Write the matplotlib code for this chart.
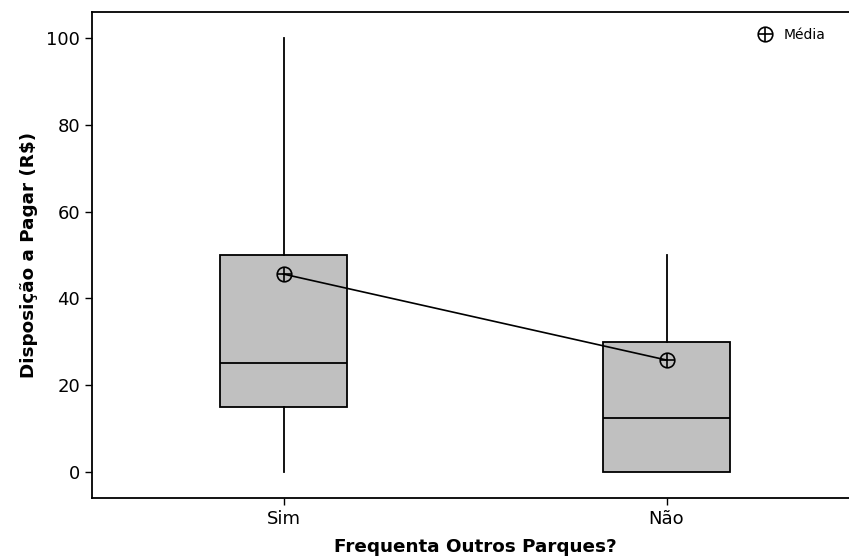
import matplotlib
matplotlib.use('Agg')
import matplotlib.pyplot as plt
from matplotlib.lines import Line2D
from matplotlib.legend_handler import HandlerTuple

# values
groups = ['Sim', 'Não']
whisker_low = [0, 0]
q1 = [15, 0]
medians = [25, 12.5]
q3 = [50, 30]
whisker_high = [100, 50]
means = [45.6, 25.8]

plt.rcParams['font.family'] = ['DejaVu Sans']

fig = plt.figure(figsize=(8.49, 5.57), dpi=100)
# axes run past the right edge of the figure, like the original
ax = fig.add_axes([92 / 849, 1 - 498 / 557, 766 / 849, 486 / 557])

stats = []
for i, g in enumerate(groups):
    stats.append({'label': g, 'whislo': whisker_low[i], 'q1': q1[i],
                  'med': medians[i], 'q3': q3[i], 'whishi': whisker_high[i],
                  'fliers': []})

pos = [1, 2]
ax.bxp(stats, positions=pos, widths=0.334, showcaps=False, patch_artist=True,
       boxprops=dict(facecolor='#c0c0c0', edgecolor='black', linewidth=1.3),
       medianprops=dict(color='black', linewidth=1.3),
       whiskerprops=dict(color='black', linewidth=1.3))

# mean connect line + circle-plus marker
mk = 10.5
ax.plot(pos, means, color='black', linewidth=1.2, zorder=3)
ax.plot(pos, means, linestyle='none', marker='o', markersize=mk,
        markerfacecolor='none', markeredgecolor='black', markeredgewidth=1.2,
        zorder=4)
ax.plot(pos, means, linestyle='none', marker='+', markersize=mk,
        markeredgecolor='black', markeredgewidth=1.2, zorder=4)

ax.set_xlim(0.5, 2.5)
ax.set_ylim(-6, 106)
ax.set_yticks([0, 20, 40, 60, 80, 100])
ax.set_xticks(pos)
ax.set_xticklabels(groups)
ax.tick_params(direction='out', length=5, width=1, labelsize=13)
for s in ax.spines.values():
    s.set_linewidth(1.3)

ax.set_ylabel('Disposição a Pagar (R$)', fontsize=13.2, fontweight='bold',
              labelpad=6)
ax.set_xlabel('Frequenta Outros Parques?', fontsize=13.2, fontweight='bold',
              labelpad=7)

h1 = Line2D([], [], linestyle='none', marker='o', markersize=mk,
            markerfacecolor='none', markeredgecolor='black', markeredgewidth=1.2)
h2 = Line2D([], [], linestyle='none', marker='+', markersize=mk,
            markeredgecolor='black', markeredgewidth=1.2)
ax.legend([(h1, h2)], ['Média'], handler_map={tuple: HandlerTuple(ndivide=1)},
          loc='upper left', bbox_to_anchor=(0.853, 0.993), frameon=False,
          fontsize=10, handlelength=1.0, handletextpad=0.85)

plt.savefig('out.png', dpi=100)
